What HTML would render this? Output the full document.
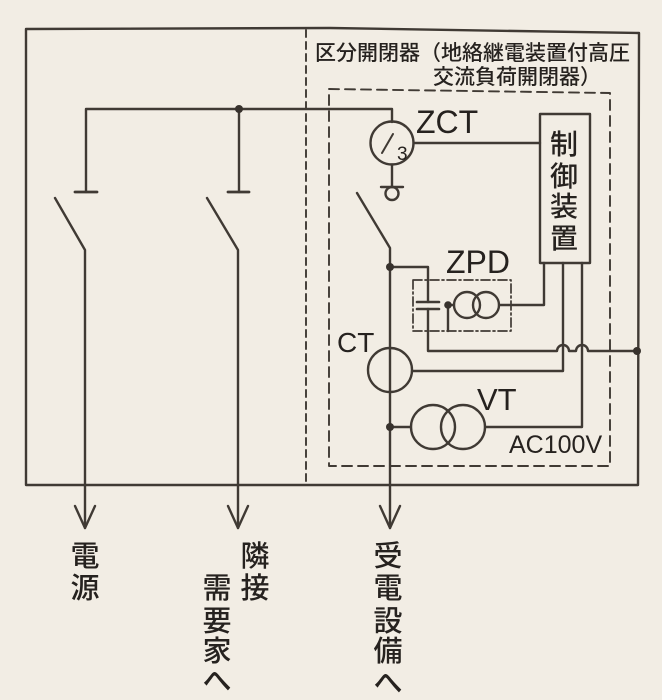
<!DOCTYPE html>
<html><head><meta charset="utf-8">
<style>
html,body{margin:0;padding:0;background:#f2ede4;}
svg{display:block;}
.j{font-family:"Liberation Sans","Noto Sans CJK JP",sans-serif;fill:#26221f;}
.l{font-family:"Liberation Sans",sans-serif;fill:#26221f;}
</style></head>
<body>
<svg width="662" height="700" viewBox="0 0 662 700" xmlns="http://www.w3.org/2000/svg">
<rect width="662" height="700" fill="#f2ede4"/>
<g fill="none" stroke="#403a34" stroke-width="2.4" stroke-linecap="round" stroke-linejoin="round">
  <!-- outer box -->
  <path d="M26,29 L330,28 L639,33 L638,485 L26,485 Z"/>
  <!-- divider dashed -->
  <path d="M306,30 V485" stroke-dasharray="7,5" stroke-width="1.9"/>
  <!-- inner dashed box -->
  <path d="M329,89 L610,93 L610,466 L329,466 Z" stroke-dasharray="10,6" stroke-width="1.9"/>
  <!-- top bus -->
  <path d="M86,192 V109 H392 V122"/>
  <path d="M239,109 V192"/>
  <path d="M75,192 H97 M228,192 H249" stroke-width="2.8"/>
  <!-- switches -->
  <path d="M55,198 L85,250 V528"/>
  <path d="M75,506 L85,528 L95,506"/>
  <path d="M207,198 L238,250 V528"/>
  <path d="M228,506 L238,528 L248,506"/>
  <path d="M357,193 L390,248 V528"/>
  <path d="M380,506 L390,528 L400,506"/>
  <!-- ZCT -->
  <circle cx="392" cy="143" r="21.5"/>
  <path d="M392,164.5 V187 M381,187 H403"/>
  <circle cx="392" cy="193.5" r="6.5"/>
  <path d="M413.5,143 H540"/>
  <path d="M382,153 L393,134" stroke-width="2"/>
  <!-- controller -->
  <rect x="540" y="114" width="50" height="149"/>
  <path d="M544,263 V305 H499"/>
  <path d="M563,263 V371 H412"/>
  <path d="M582,263 V427 H485"/>
  <!-- capacitor branch -->
  <path d="M390,267 H428 V302"/>
  <path d="M417,302 H439 M417,309 H439" stroke-width="2.6"/>
  <path d="M428,309 V351 H557 A6,6 0 0 1 569,351 H576 A6,6 0 0 1 588,351 H637"/>
  <!-- ZPD box -->
  <rect x="413" y="280" width="98" height="51" stroke-dasharray="9,3,2,3" stroke-width="1.7"/>
  <path d="M448,305 V331 M448,305 H454"/>
  <circle cx="467" cy="305" r="13"/>
  <circle cx="486" cy="305" r="13"/>
  <!-- CT -->
  <circle cx="390" cy="370" r="22"/>
  <!-- VT -->
  <path d="M390,427 H411"/>
  <circle cx="433" cy="427" r="22"/>
  <circle cx="463" cy="427" r="22"/>
</g>
<g fill="#38322d">
  <circle cx="239" cy="109" r="4"/>
  <circle cx="390" cy="267" r="4"/>
  <circle cx="390" cy="427" r="4"/>
  <circle cx="448" cy="305" r="3.8"/>
  <circle cx="637" cy="351" r="4"/>
</g>
<!-- title -->
<text class="j" x="315" y="60" font-size="21" font-weight="500">区分開閉器（地絡継電装置付高圧</text>
<text class="j" x="433" y="84" font-size="21" font-weight="500">交流負荷開閉器）</text>
<!-- latin labels -->
<text class="l" x="416" y="133" font-size="32">ZCT</text>
<text class="l" x="397" y="160" font-size="19">3</text>
<text class="l" x="446" y="273" font-size="32">ZPD</text>
<text class="l" x="337" y="352" font-size="28">CT</text>
<text class="l" x="477" y="410" font-size="31">VT</text>
<text class="l" x="509" y="453" font-size="25">AC100V</text>
<!-- controller text -->
<g class="j" font-size="28" font-weight="500" text-anchor="middle">
  <text x="564" y="154">制</text>
  <text x="564" y="186">御</text>
  <text x="564" y="216">装</text>
  <text x="564" y="248">置</text>
</g>
<!-- bottom labels -->
<g class="j" font-size="29" font-weight="500" text-anchor="middle">
  <text x="85" y="566">電</text>
  <text x="85" y="598">源</text>
  <text x="255" y="566">隣</text>
  <text x="255" y="598">接</text>
  <text x="217" y="598">需</text>
  <text x="217" y="631">要</text>
  <text x="217" y="661">家</text>
  <text x="217" y="691">へ</text>
  <text x="388" y="566">受</text>
  <text x="388" y="598">電</text>
  <text x="388" y="631">設</text>
  <text x="388" y="661">備</text>
  <text x="388" y="693">へ</text>
</g>
</svg>
</body></html>
